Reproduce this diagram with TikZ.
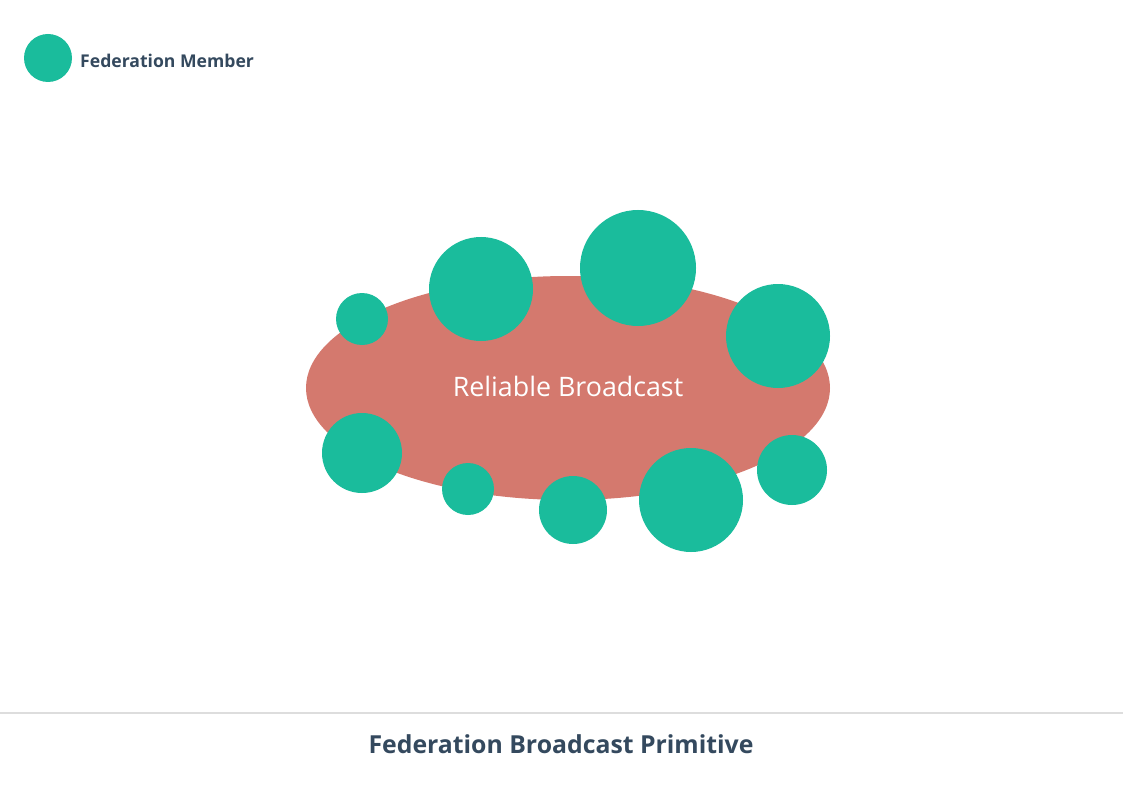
\documentclass[tikz,border=0pt]{standalone}
\usepackage{fontspec}
\setmainfont{Open Sans}
\definecolor{member}{HTML}{1ABC9C}
\definecolor{bcast}{HTML}{D4796E}
\definecolor{ink}{HTML}{34495E}
\definecolor{rule}{HTML}{DDDDDD}
\begin{document}
\begin{tikzpicture}[x=1pt,y=-1pt,
  memb/.style={circle,fill=member,draw=none,inner sep=0pt,minimum size=#1},
  lbl/.style={text=ink,font=\fontsize{17.6}{20}\selectfont\bfseries,inner sep=0pt}]
\useasboundingbox[fill=white] (0,0) rectangle (1123,794);
% legend
\node[memb=48pt] (leg) at (48,58) {};
\node[lbl,anchor=west] (legtext) at (80,61) {Federation Member};
% broadcast ellipse
\fill[bcast] (568,388) ellipse [x radius=262, y radius=112];
\node[text=white,font=\fontsize{26.8}{30}\selectfont,inner sep=0pt] (rb) at (568,386) {Reliable Broadcast};
% members
\node[memb=52pt] (m1) at (362,319) {};
\node[memb=104pt] (m2) at (481,289) {};
\node[memb=116pt] (m3) at (638,268) {};
\node[memb=104pt] (m4) at (778,336) {};
\node[memb=80pt] (m5) at (362,453) {};
\node[memb=52pt] (m6) at (468,489) {};
\node[memb=68pt] (m7) at (573,510) {};
\node[memb=104pt] (m8) at (691,500) {};
\node[memb=70pt] (m9) at (792,470) {};
% footer
\coordinate (rl) at (0,713);
\coordinate (rr) at (1123,713);
\draw[rule,line width=1.5pt] (rl) -- (rr);
\node[lbl,font=\fontsize{24.8}{28}\selectfont\bfseries] (title) at (561,744) {Federation Broadcast Primitive};
\end{tikzpicture}
\end{document}
